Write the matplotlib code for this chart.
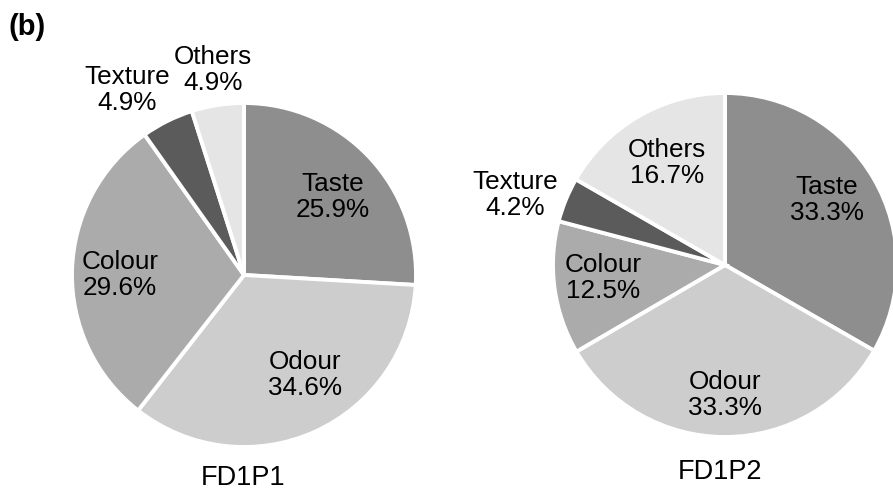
import matplotlib
matplotlib.use("Agg")
import matplotlib.pyplot as plt

plt.rcParams['font.family'] = ['Liberation Sans', 'DejaVu Sans']

categories = ['Taste', 'Odour', 'Colour', 'Texture', 'Others']
fd1p1_share = [25.9, 34.6, 29.6, 4.9, 4.9]
fd1p2_share = [33.3, 33.3, 12.5, 4.2, 16.7]
titles = ['FD1P1', 'FD1P2']

greys = ['#8e8e8e', '#cdcdcd', '#ababab', '#5b5b5b', '#e5e5e5']

W, H = 893, 490
fig = plt.figure(figsize=(W / 100, H / 100), dpi=100)
ax = fig.add_axes([0, 0, 1, 1])

# pie centres and radius in pixel units (y measured from the bottom)
centres = [(244, H - 275), (725, H - 265)]
radius = 172

# label offsets from each pie centre (dx, dy), screen pixels, y down
label_offsets = [
    [(89, -78), (61, 100), (-124, 0), (-117, -185), (-31, -205)],
    [(102, -65), (0, 130), (-122, 13), (-210, -70), (-58, -102)],
]
title_pos = [(243, 478), (720, 472)]

for k, shares in enumerate([fd1p1_share, fd1p2_share]):
    cx, cy = centres[k]
    ax.pie(shares, colors=greys, startangle=90, counterclock=False,
           center=(cx, cy), radius=radius, normalize=True,
           wedgeprops=dict(edgecolor='white', linewidth=2.8))
    for name, val, (dx, dy) in zip(categories, shares, label_offsets[k]):
        ax.text(cx + dx, cy - dy, f"{name}\n{val:.1f}%", ha='center',
                va='center', fontsize=18.8, linespacing=1.15, color='black')
    tx, ty = title_pos[k]
    ax.text(tx, H - ty, titles[k], ha='center', va='center', fontsize=19.5)

ax.text(8, H - 27, '(b)', ha='left', va='center', fontsize=21,
        fontweight='bold')

ax.set_xlim(0, W)
ax.set_ylim(0, H)
ax.set_aspect('equal')
ax.axis('off')

fig.savefig('out.png', dpi=100)
